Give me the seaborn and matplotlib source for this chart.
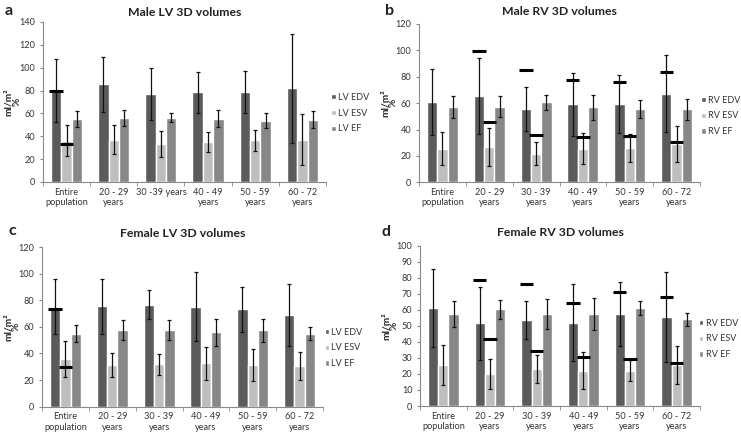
import numpy as np
import pandas as pd
import matplotlib
matplotlib.use('Agg')
import matplotlib.pyplot as plt
import seaborn as sns

# category labels
groups = ['Entire\npopulation', '20 - 29\nyears', '30 - 39\nyears',
          '40 - 49\nyears', '50 - 59\nyears', '60 - 72\nyears']
groups_a = ['Entire\npopulation', '20 - 29\nyears', '30 -39 years',
            '40 - 49\nyears', '50 - 59\nyears', '60 - 72\nyears']

# a: Male LV (mean, sd)
male_lv_edv = [80.0, 85.4, 77.0, 78.3, 78.7, 82.1]
male_lv_edv_sd = [27.2, 24.1, 22.8, 18.2, 18.2, 47.8]
male_lv_esv = [36.0, 37.1, 33.6, 34.8, 36.3, 37.1]
male_lv_esv_sd = [13.5, 12.7, 11.4, 9.0, 8.8, 22.4]
male_lv_ef = [55.2, 56.1, 56.4, 55.5, 53.5, 54.4]
male_lv_ef_sd = [6.8, 6.9, 4.3, 7.6, 6.7, 7.6]
male_lv_ref_edv = [80.0, None, None, None, None, None]
male_lv_ref_esv = [33.0, None, None, None, None, None]

# b: Male RV
male_rv_edv = [61.0, 65.2, 55.8, 59.1, 59.1, 67.2]
male_rv_edv_sd = [24.8, 28.8, 16.8, 23.9, 22.1, 29.3]
male_rv_esv = [25.5, 26.8, 21.7, 25.3, 25.8, 29.0]
male_rv_esv_sd = [12.4, 14.4, 8.8, 11.8, 10.6, 13.8]
male_rv_ef = [57.1, 57.3, 60.6, 56.8, 55.6, 55.2]
male_rv_ef_sd = [8.1, 8.0, 5.8, 9.4, 7.1, 7.8]
male_rv_ref_edv = [None, 99.5, 85.1, 77.8, 76.0, 83.8]
male_rv_ref_esv = [None, 46.0, 35.6, 34.1, 35.1, 30.3]

# c: Female LV
female_lv_edv = [75.3, 75.5, 76.8, 75.3, 73.3, 68.8]
female_lv_edv_sd = [20.7, 20.7, 11.0, 26.2, 16.8, 23.4]
female_lv_esv = [35.8, 31.5, 31.8, 32.8, 31.3, 30.8]
female_lv_esv_sd = [13.3, 9.2, 7.9, 12.4, 12.0, 10.4]
female_lv_ef = [55.0, 57.8, 58.0, 56.0, 57.3, 54.9]
female_lv_ef_sd = [6.5, 7.4, 7.5, 10.0, 8.7, 4.8]
female_lv_ref_edv = [73.3, None, None, None, None, None]
female_lv_ref_esv = [30.0, None, None, None, None, None]

# d: Female RV
female_rv_edv = [61.0, 51.5, 53.8, 51.9, 57.3, 55.6]
female_rv_edv_sd = [24.5, 22.5, 11.8, 23.9, 20.0, 27.9]
female_rv_esv = [25.6, 20.2, 23.1, 22.1, 22.1, 25.6]
female_rv_esv_sd = [12.4, 9.3, 8.8, 11.8, 6.4, 11.8]
female_rv_ef = [57.3, 60.4, 57.3, 57.3, 61.3, 54.0]
female_rv_ef_sd = [8.1, 5.9, 9.4, 10.2, 4.4, 4.0]
female_rv_ref_edv = [None, 78.3, 76.3, 64.2, 70.8, 68.1]
female_rv_ref_esv = [None, 41.5, 34.4, 30.4, 29.6, 26.7]

colors = ['#5b5b5b', '#bebebe', '#878787']

sns.set_style('white')
plt.rcParams['font.family'] = ['Lato', 'DejaVu Sans']
plt.rcParams['text.color'] = '#222222'


def draw_panel(ax, title, labels, prefix, means, sds, refs, ymax, ystep,
               title_pad, leg_x, leg_y):
    names = [prefix + ' EDV', prefix + ' ESV', prefix + ' EF']
    df = pd.DataFrame({
        'group': labels * 3,
        'series': [n for n in names for _ in labels],
        'value': means[0] + means[1] + means[2],
    })
    sns.barplot(data=df, x='group', y='value', hue='series', order=labels,
                hue_order=names, palette=colors, saturation=1, width=0.66,
                errorbar=None, ax=ax)

    bar_sets = list(ax.containers)
    for i, cont in enumerate(bar_sets):
        xs = [p.get_x() + p.get_width() / 2 for p in cont.patches]
        ys = [p.get_height() for p in cont.patches]
        ax.errorbar(xs, ys, yerr=sds[i], fmt='none', ecolor='#111111',
                    elinewidth=0.9, capsize=1.6, capthick=0.9, zorder=3)
        if i < 2:
            w = cont.patches[0].get_width()
            for x, r in zip(xs, refs[i]):
                if r is not None:
                    ax.hlines(r, x - 0.65 * w, x + 0.65 * w, color='black',
                              lw=2.2, zorder=4)

    ax.set_xlim(-0.5, 5.5)
    ax.set_ylim(0, ymax)
    ax.set_yticks(np.arange(0, ymax + 1, ystep))
    ax.set_xlabel('')
    ax.set_ylabel('ml/m²\n%', fontsize=7.3, fontweight='bold', linespacing=0.85)
    ax.yaxis.set_label_coords(-0.077, 0.5)
    ax.set_title(title, fontsize=8.8, fontweight='bold', pad=title_pad)
    sns.despine(ax=ax)
    for s in ['left', 'bottom']:
        ax.spines[s].set_color('#8a8a8a')
        ax.spines[s].set_linewidth(0.8)
    ax.set_xticks(np.arange(-0.5, 6, 1), minor=True)
    ax.tick_params(axis='x', which='major', length=0, labelsize=6.6, pad=4,
                   labelcolor='#333333')
    ax.tick_params(axis='x', which='minor', length=3, color='#8a8a8a',
                   direction='out', bottom=True)
    ax.tick_params(axis='y', length=2.5, color='#8a8a8a', direction='out',
                   left=True, labelsize=6.6, labelcolor='#333333', pad=3)

    sns.move_legend(ax, 'center left', bbox_to_anchor=(leg_x, leg_y),
                    frameon=False, title=None, fontsize=6.5, borderpad=0,
                    borderaxespad=0, handlelength=0.5, handleheight=0.5,
                    labelspacing=0.75, handletextpad=0.25)
    for t in ax.get_legend().get_texts():
        t.set_color('#333333')


fig = plt.figure(figsize=(7.41, 4.36), dpi=100)
ax_a = fig.add_axes([0.0580, 0.5826, 0.3819, 0.3670])
ax_b = fig.add_axes([0.5655, 0.5819, 0.3792, 0.3631])
ax_c = fig.add_axes([0.0567, 0.0672, 0.3792, 0.3661])
ax_d = fig.add_axes([0.5668, 0.0688, 0.3779, 0.3677])

draw_panel(ax_a, 'Male LV 3D volumes', groups_a, 'LV',
           [male_lv_edv, male_lv_esv, male_lv_ef],
           [male_lv_edv_sd, male_lv_esv_sd, male_lv_ef_sd],
           [male_lv_ref_edv, male_lv_ref_esv], 140, 20, 4.5, 1.018, 0.431)
draw_panel(ax_b, 'Male RV 3D volumes', groups, 'RV',
           [male_rv_edv, male_rv_esv, male_rv_ef],
           [male_rv_edv_sd, male_rv_esv_sd, male_rv_ef_sd],
           [male_rv_ref_edv, male_rv_ref_esv], 120, 20, 6.3, 1.005, 0.419)
draw_panel(ax_c, 'Female LV 3D volumes', groups, 'LV',
           [female_lv_edv, female_lv_esv, female_lv_ef],
           [female_lv_edv_sd, female_lv_esv_sd, female_lv_ef_sd],
           [female_lv_ref_edv, female_lv_ref_esv], 120, 20, 7.5, 1.006, 0.368)
draw_panel(ax_d, 'Female RV 3D volumes', groups, 'RV',
           [female_rv_edv, female_rv_esv, female_rv_ef],
           [female_rv_edv_sd, female_rv_esv_sd, female_rv_ef_sd],
           [female_rv_ref_edv, female_rv_ref_esv], 100, 10, 6.8, 0.996, 0.418)

for letter, x, y in [('a', 0.0067, 0.9656), ('b', 0.5196, 0.9656),
                     ('c', 0.0108, 0.4617), ('d', 0.5155, 0.458)]:
    fig.text(x, y, letter, fontsize=11.5, fontweight='bold', va='baseline',
             ha='left')

fig.savefig('out.png', dpi=100)
